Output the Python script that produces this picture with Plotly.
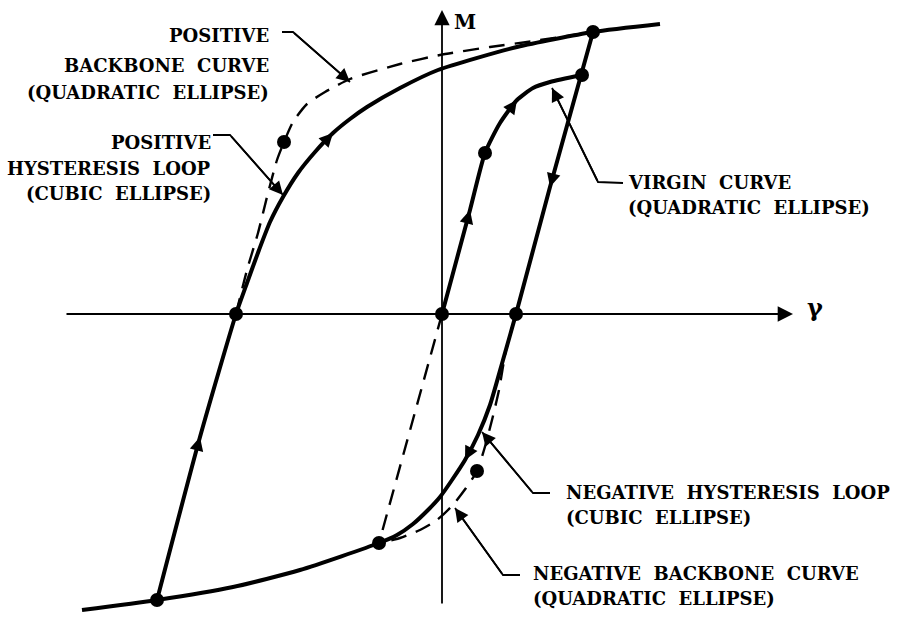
import numpy as np
import plotly.graph_objects as go

# Moment (M) versus shear strain (gamma) hysteresis model, drawing units.

# Positive hysteresis loop, loading branch (cubic ellipse)
pos_loop_g = [-2.85, -2.42, -2.06, -1.95, -1.83, -1.72, -1.59, -1.44, -1.27, -1.09, -0.92, -0.75, -0.42, -0.04, 0.75, 1.51, 2.18]
pos_loop_m = [-2.86, -1.23, 0.00, 0.31, 0.64, 0.92, 1.17, 1.41, 1.62, 1.81, 1.95, 2.07, 2.26, 2.44, 2.67, 2.82, 2.90]

# Negative hysteresis loop, unloading branch (cubic ellipse)
neg_loop_g = [1.51, 1.08, 0.74, 0.61, 0.48, 0.36, 0.23, 0.10, -0.02, -0.14, -0.29, -0.45, -0.63, -1.42, -2.09, -2.85, -3.60]
neg_loop_m = [2.82, 1.27, 0.00, -0.46, -0.91, -1.21, -1.46, -1.66, -1.83, -1.96, -2.10, -2.21, -2.29, -2.56, -2.73, -2.86, -2.96]

# Virgin curve (quadratic ellipse)
virgin_g = [0.00, 0.28, 0.43, 0.58, 0.75, 0.91, 1.08, 1.40]
virgin_m = [0.00, 1.04, 1.61, 1.91, 2.14, 2.26, 2.32, 2.39]

# Positive backbone curve (quadratic ellipse)
pos_bb_g = [-2.06, -1.95, -1.84, -1.75, -1.65, -1.58, -1.49, -1.35, -1.17, -0.92, -0.42, -0.02, 0.48, 0.85, 1.51]
pos_bb_m = [0.00, 0.44, 0.81, 1.17, 1.54, 1.72, 1.92, 2.10, 2.22, 2.35, 2.50, 2.59, 2.67, 2.72, 2.82]

# Negative backbone curve (quadratic ellipse)
neg_bb_g = [0.74, 0.64, 0.57, 0.50, 0.42, 0.35, 0.24, 0.10, -0.05, -0.22, -0.42, -0.63]
neg_bb_m = [0.00, -0.36, -0.76, -1.06, -1.36, -1.57, -1.74, -1.92, -2.06, -2.16, -2.24, -2.29]

# Dashed path from the origin to the negative backbone point
origin_path_g = [0.00, -0.63]
origin_path_m = [0.00, -2.29]

# Marked state points
dots_g = [0.00, -2.06, 0.74, 1.51, -2.85, 0.43, 1.40, -0.63, -1.58, 0.35]
dots_m = [0.00, 0.00, 0.00, 2.82, -2.86, 1.61, 2.39, -2.29, 1.72, -1.57]

# Axes extents
gamma_axis = [-3.77, 3.51]
m_axis = [-2.91, 3.04]

# Callout texts: lines, anchor x, line y positions, alignment
labels = [
    (["POSITIVE", "BACKBONE\u00a0 CURVE", "(QUADRATIC\u00a0 ELLIPSE)"], -1.72, [2.79, 2.49, 2.22], "right"),
    (["POSITIVE", "HYSTERESIS\u00a0 LOOP", "(CUBIC\u00a0 ELLIPSE)"], -2.30, [1.72, 1.46, 1.21], "right"),
    (["VIRGIN\u00a0 CURVE", "(QUADRATIC\u00a0 ELLIPSE)"], 1.85, [1.32, 1.07], "left"),
    (["NEGATIVE\u00a0 HYSTERESIS\u00a0 LOOP", "(CUBIC\u00a0 ELLIPSE)"], 1.23, [-1.78, -2.03], "left"),
    (["NEGATIVE\u00a0 BACKBONE\u00a0 CURVE", "(QUADRATIC\u00a0 ELLIPSE)"], 0.90, [-2.59, -2.84], "left"),
]

# Leader lines: start next to the text, bend, arrow tip on the curve
leaders = [
    ([-1.60, -1.49, -0.92], [2.82, 2.82, 2.32]),
    ([-2.29, -2.12, -1.59], [1.79, 1.79, 1.19]),
    ([1.81, 1.56, 1.10], [1.31, 1.32, 2.26]),
    ([1.08, 0.91, 0.40], [-1.79, -1.79, -1.18]),
    ([0.78, 0.61, 0.13], [-2.61, -2.61, -1.94]),
]

# Direction arrows on curves: (curve, vertex index)
curve_arrows = [
    ("pos", 1), ("pos", 9), ("neg", 1), ("neg", 6), ("vir", 1), ("vir", 4),
]

curves = {
    "pos": (pos_loop_g, pos_loop_m),
    "neg": (neg_loop_g, neg_loop_m),
    "vir": (virgin_g, virgin_m),
}

W, H = 902, 617
x_range = [-4.42, 4.60]
y_range = [-3.03, 3.14]
FONT = "DejaVu Serif"

fig = go.Figure()


def add_line(g, m, width, dash=None, spline=True):
    fig.add_trace(go.Scatter(
        x=g, y=m, mode="lines",
        line=dict(color="black", width=width, dash=dash,
                  shape="spline" if spline else "linear", smoothing=0.6),
        hoverinfo="skip", showlegend=False))


def arrow(x, y, ax, ay, size, width):
    return dict(x=x, y=y, ax=ax, ay=ay, xref="x", yref="y", axref="x", ayref="y",
                text="", showarrow=True, arrowhead=2, arrowsize=size,
                arrowwidth=width, arrowcolor="black", standoff=0)


annotations = []

# coordinate axes
annotations.append(arrow(gamma_axis[1], 0, gamma_axis[0], 0, 1.7, 1.8))
annotations.append(arrow(0, m_axis[1], 0, m_axis[0], 1.7, 1.8))

# dashed backbone curves
add_line(pos_bb_g, pos_bb_m, 2.4, dash="16px,10px")
add_line(neg_bb_g, neg_bb_m, 2.4, dash="16px,10px")
add_line(origin_path_g, origin_path_m, 2.4, dash="16px,10px", spline=False)

# solid hysteresis and virgin curves
add_line(pos_loop_g, pos_loop_m, 4)
add_line(neg_loop_g, neg_loop_m, 4)
add_line(virgin_g, virgin_m, 4)

# state points
fig.add_trace(go.Scatter(x=dots_g, y=dots_m, mode="markers",
                         marker=dict(color="black", size=14),
                         hoverinfo="skip", showlegend=False))

# direction arrows along curves
px_per_x = W / (x_range[1] - x_range[0])
px_per_y = H / (y_range[1] - y_range[0])
for name, k in curve_arrows:
    g, m = curves[name]
    dx = (g[k] - g[k - 1]) * px_per_x
    dy = (m[k] - m[k - 1]) * px_per_y
    n = np.hypot(dx, dy)
    back = 10.0
    tail_g = g[k] - back * dx / n / px_per_x
    tail_m = m[k] - back * dy / n / px_per_y
    annotations.append(arrow(g[k], m[k], tail_g, tail_m, 1.1, 2.5))

# leader lines with arrow tips
for lg, lm in leaders:
    add_line(lg, lm, 1.8, spline=False)
    annotations.append(arrow(lg[2], lm[2], lg[1], lm[1], 1.5, 1.8))

# callout texts
for lines, x0, ys, side in labels:
    for txt, y0 in zip(lines, ys):
        annotations.append(dict(x=x0, y=y0, xref="x", yref="y", text=txt,
                                showarrow=False, xanchor=side, yanchor="middle",
                                align=side, borderpad=0,
                                font=dict(family=FONT, size=18, weight="bold",
                                          color="black")))

# axis titles
annotations.append(dict(x=0.23, y=2.92, xref="x", yref="y", text="<b>M</b>",
                        showarrow=False, xanchor="center", yanchor="middle",
                        font=dict(family=FONT, size=20, color="black")))
annotations.append(dict(x=3.73, y=0.07, xref="x", yref="y", text="<b>γ</b>",
                        showarrow=False, xanchor="center", yanchor="middle",
                        font=dict(family=FONT, size=24, color="black")))

fig.update_layout(
    width=W, height=H,
    margin=dict(l=0, r=0, t=0, b=0),
    paper_bgcolor="white", plot_bgcolor="white",
    xaxis=dict(range=x_range, visible=False, fixedrange=True),
    yaxis=dict(range=y_range, visible=False, fixedrange=True),
    annotations=annotations,
    showlegend=False,
)

fig.write_html("out.html")
